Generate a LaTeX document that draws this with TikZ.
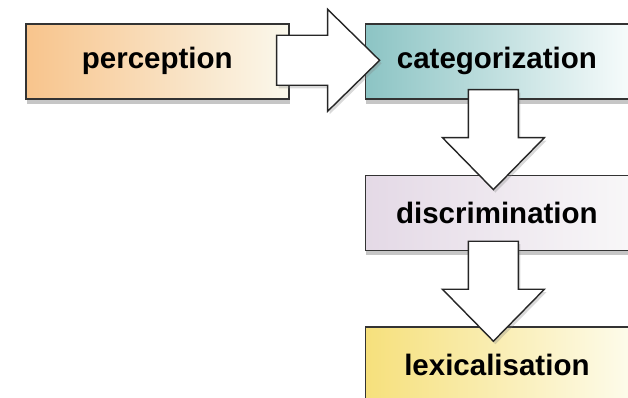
\documentclass[tikz,border=0pt]{standalone}
\usepackage{fontspec}
\setmainfont{Liberation Sans}
\usetikzlibrary{positioning,calc,shadows}

\definecolor{percleft}{HTML}{F8C48C}
\definecolor{percright}{HTML}{FAF8EC}
\definecolor{categleft}{HTML}{8CC4C4}
\definecolor{categright}{HTML}{F6FBFB}
\definecolor{discleft}{HTML}{E4D9E6}
\definecolor{discright}{HTML}{F8F7F8}
\definecolor{lexleft}{HTML}{F6E07C}
\definecolor{lexright}{HTML}{FDFBEA}

\tikzset{
  stage/.style = {draw=black!80, line width=1.6pt, rectangle,
    minimum width=263pt, minimum height=75pt, inner sep=0pt,
    font=\fontsize{29.5}{34}\selectfont\bfseries,
    drop shadow={shadow xshift=1pt, shadow yshift=-5pt, opacity=.45}},
  bigarrow/.style = {draw=black!85, line width=1.4pt, fill=white,
    drop shadow={shadow xshift=2pt, shadow yshift=-3pt, opacity=.3},
    to path={let \p1=($(\tikztotarget)!52pt!(\tikztostart)$) in
      ($(\tikztostart)!25pt!-90:(\tikztotarget)$) -- ($(\p1)!25pt!-90:(\tikztotarget)$)
      -- ($(\p1)!51pt!-90:(\tikztotarget)$) -- (\tikztotarget)
      -- ($(\p1)!51pt!90:(\tikztotarget)$) -- ($(\p1)!25pt!90:(\tikztotarget)$)
      -- ($(\tikztostart)!25pt!90:(\tikztotarget)$) -- cycle \tikztonodes}}
}

\begin{document}
\begin{tikzpicture}[x=1pt, y=1pt, node distance=75pt]
    \useasboundingbox (0,0) rectangle (628,-398);

    \node[stage, anchor=north west, left color=percleft, right color=percright] (perc) at (25,-23) {perception};
    \node[stage, right=of perc, left color=categleft, right color=categright] (categ) {categorization};
    \node[stage, below=of categ, left color=discleft, right color=discright] (disc) {discrimination};
    \node[stage, below=of disc, left color=lexleft, right color=lexright] (lex) {lexicalisation};

    % block arrows between the stages
    \coordinate (a1) at ($(perc.east)+(-13,1)$);
    \coordinate (b1) at ($(categ.west)+(15,1)$);
    \coordinate (a2) at ($(categ.south)+(-3.5,10)$);
    \coordinate (b2) at ($(disc.north)+(-3.5,-15)$);
    \coordinate (a3) at ($(disc.south)+(-3.5,10)$);
    \coordinate (b3) at ($(lex.north)+(-3.5,-15)$);
    \draw[bigarrow] (a1) to (b1);
    \draw[bigarrow] (a2) to (b2);
    \draw[bigarrow] (a3) to (b3);
\end{tikzpicture}
\end{document}
